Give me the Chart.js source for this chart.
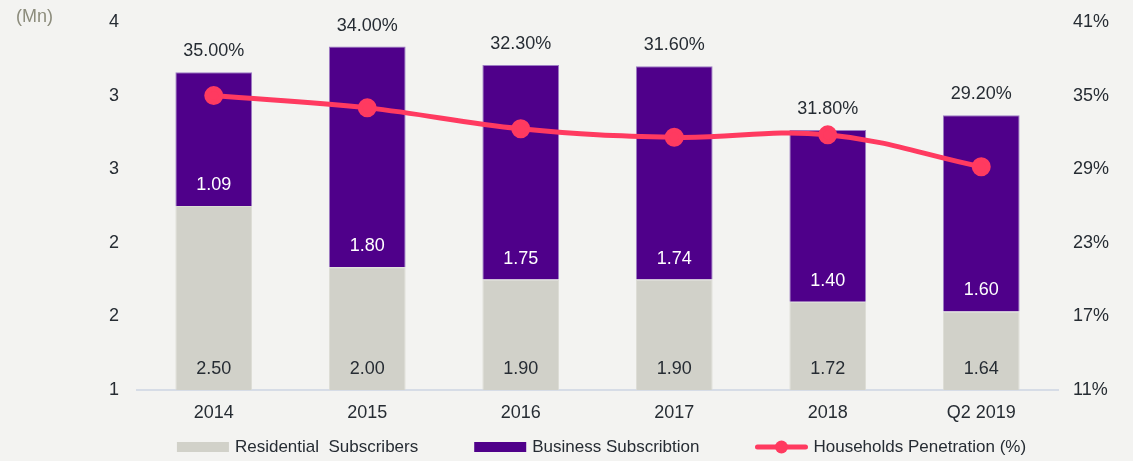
<!DOCTYPE html>
<html>
<head>
<meta charset="utf-8">
<script src="https://cdn.jsdelivr.net/npm/chart.js@4.4.1/dist/chart.umd.min.js"></script>
<style>
  html, body { margin: 0; padding: 0; background: #f3f3f1; }
  #wrap { position: relative; width: 1133px; height: 461px; }
</style>
</head>
<body>
<div id="wrap"><canvas id="mainChart"></canvas></div>
<script>
const labels = ["2014", "2015", "2016", "2017", "2018", "Q2 2019"];
const residential = [2.5, 2.0, 1.9, 1.9, 1.72, 1.64];
const business = [1.09, 1.8, 1.75, 1.74, 1.4, 1.6];
const penetration = [35.0, 34.0, 32.3, 31.6, 31.8, 29.2];

const FONT = "'Liberation Sans', Arial, sans-serif";
const TEXT = "#262c33";
const GREY = "#d1d1c9";
const PURPLE = "#4f008a";
const PINK = "#ff3a60";

// value labels, percent labels, unit text and legend
const labelPlugin = {
  id: "labelPlugin",
  afterDatasetsDraw(chart) {
    const ctx = chart.ctx;
    const area = chart.chartArea;
    ctx.save();
    ctx.font = "18px " + FONT;
    ctx.textAlign = "center";
    ctx.textBaseline = "middle";

    const resMeta = chart.getDatasetMeta(0);
    const busMeta = chart.getDatasetMeta(1);

    resMeta.data.forEach((bar, i) => {
      const base = Math.min(bar.base, area.bottom);
      ctx.fillStyle = TEXT;
      ctx.fillText(residential[i].toFixed(2), bar.x, base - 21);
    });
    busMeta.data.forEach((bar, i) => {
      ctx.fillStyle = "#ffffff";
      ctx.fillText(business[i].toFixed(2), bar.x, bar.base - 21);
      ctx.fillStyle = TEXT;
      ctx.fillText(penetration[i].toFixed(2) + "%", bar.x, bar.y - 21);
    });

    // unit
    ctx.fillStyle = "#8c8c7c";
    ctx.textAlign = "left";
    ctx.fillText("(Mn)", 16, 17);

    // legend
    ctx.font = "17px " + FONT;
    const items = [
      { text: "Residential  Subscribers", type: "box", color: GREY },
      { text: "Business Subscribtion", type: "box", color: PURPLE },
      { text: "Households Penetration (%)", type: "line", color: PINK },
    ];
    const symW = 52, gapSym = 6, gapItem = 56;
    let total = 0;
    items.forEach((it, i) => {
      it.w = ctx.measureText(it.text).width;
      total += symW + gapSym + it.w + (i < items.length - 1 ? gapItem : 0);
    });
    let x = (area.left + area.right) / 2 - total / 2 + 4;
    const y = 447;
    items.forEach((it) => {
      if (it.type === "box") {
        ctx.fillStyle = it.color;
        ctx.fillRect(x, y - 5, symW, 10);
      } else {
        ctx.strokeStyle = it.color;
        ctx.lineWidth = 5;
        ctx.lineCap = "round";
        ctx.beginPath();
        ctx.moveTo(x + 2, y);
        ctx.lineTo(x + symW - 2, y);
        ctx.stroke();
        ctx.fillStyle = it.color;
        ctx.beginPath();
        ctx.arc(x + symW / 2, y, 6.5, 0, Math.PI * 2);
        ctx.fill();
      }
      ctx.fillStyle = TEXT;
      ctx.fillText(it.text, x + symW + gapSym, y);
      x += symW + gapSym + it.w + gapItem;
    });
    ctx.restore();
  },
};

new Chart(document.getElementById("mainChart").getContext("2d"), {
  data: {
    labels: labels,
    datasets: [
      {
        type: "bar",
        label: "Residential  Subscribers",
        data: residential,
        backgroundColor: GREY,
        borderColor: "#dcdcd5",
        borderWidth: 1,
        stack: "subs",
        yAxisID: "y",
        order: 1,
      },
      {
        type: "bar",
        label: "Business Subscribtion",
        data: business,
        backgroundColor: PURPLE,
        borderColor: "#9c7cc4",
        borderWidth: 1,
        stack: "subs",
        yAxisID: "y",
        order: 1,
      },
      {
        type: "line",
        label: "Households Penetration (%)",
        data: penetration,
        borderColor: PINK,
        backgroundColor: PINK,
        borderWidth: 5,
        pointRadius: 7,
        pointHoverRadius: 7,
        tension: 0.4,
        yAxisID: "y1",
        order: 0,
      },
    ],
  },
  options: {
    responsive: true,
    maintainAspectRatio: false,
    animation: false,
    layout: { padding: { top: 22 } },
    plugins: {
      legend: { display: false },
      tooltip: { enabled: false },
    },
    datasets: {
      bar: { categoryPercentage: 1, barPercentage: 0.5 },
    },
    scales: {
      x: {
        stacked: true,
        grid: { display: false, drawTicks: false },
        border: { color: "#d6dce6", width: 2 },
        ticks: { color: TEXT, font: { family: FONT, size: 18 }, padding: 12 },
        afterFit(scale) { scale.height = 71; },
      },
      y: {
        stacked: true,
        position: "left",
        min: 1,
        max: 4,
        ticks: {
          stepSize: 0.6,
          color: TEXT,
          padding: 0,
          font: { family: FONT, size: 18 },
          callback: (v) => Math.round(v).toFixed(0),
        },
        // hidden tick marks used only to push the labels away from the plot
        grid: { display: false, drawTicks: true, tickLength: 18 },
        border: { display: false },
        afterFit(scale) { scale.width = 137; },
      },
      y1: {
        position: "right",
        min: 11,
        max: 41,
        ticks: {
          stepSize: 6,
          color: TEXT,
          padding: 0,
          font: { family: FONT, size: 18 },
          callback: (v) => Math.round(v) + "%",
        },
        grid: { display: false, drawTicks: true, tickLength: 15 },
        border: { display: false },
        afterFit(scale) { scale.width = 75; },
      },
    },
  },
  plugins: [labelPlugin],
});
</script>
</body>
</html>
